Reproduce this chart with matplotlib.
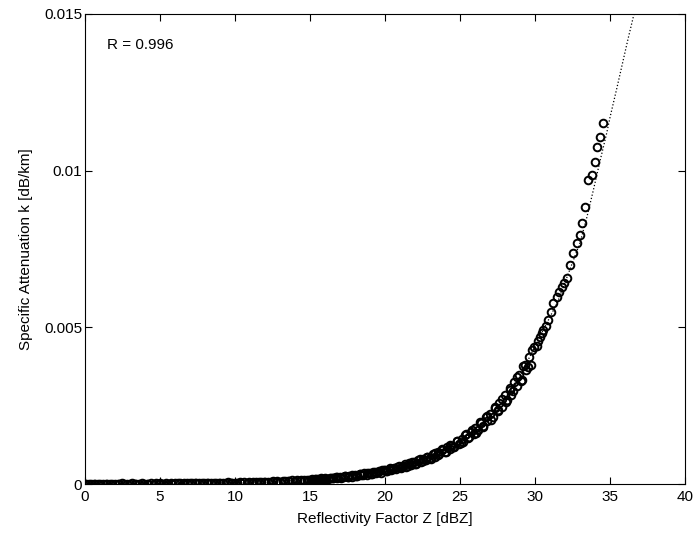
import matplotlib
matplotlib.use("Agg")
import matplotlib.pyplot as plt

plt.rcParams['font.family'] = ['Liberation Sans', 'DejaVu Sans']

# scattered (Z, k) pairs, split by range
dbz_low = [0.0, 0.1, 0.3, 0.4, 0.6, 0.7, 0.9, 1.0, 1.2, 1.4,
           1.5, 1.7, 1.8, 2.0, 2.2, 2.3, 2.5, 2.6, 2.8, 3.0,
           3.1, 3.3, 3.4, 3.6, 3.8, 3.9, 4.1, 4.2, 4.4, 4.6,
           4.7, 4.9, 5.0, 5.2, 5.4, 5.5, 5.7, 5.8, 6.0, 6.2,
           6.3, 6.5, 6.6, 6.8, 7.0, 7.1, 7.3, 7.4, 7.6, 7.8,
           7.9, 8.1, 8.2, 8.4, 8.6, 8.7, 8.9, 9.0, 9.2, 9.4,
           9.5, 9.7, 9.8]
k_low = [0.000004, 0.000012, 0.000003, 0.000010, 0.000006, 0.000015, 0.000005, 0.000009, 0.000014, 0.000004,
         0.000011, 0.000008, 0.000016, 0.000006, 0.000012, 0.000009, 0.000018, 0.000007, 0.000013, 0.000010,
         0.000019, 0.000008, 0.000015, 0.000011, 0.000020, 0.000009, 0.000016, 0.000013, 0.000022, 0.000011,
         0.000018, 0.000014, 0.000024, 0.000012, 0.000020, 0.000016, 0.000027, 0.000014, 0.000023, 0.000018,
         0.000030, 0.000016, 0.000026, 0.000021, 0.000033, 0.000019, 0.000029, 0.000024, 0.000037, 0.000021,
         0.000032, 0.000027, 0.000041, 0.000024, 0.000036, 0.000030, 0.000045, 0.000027, 0.000040, 0.000034,
         0.000050, 0.000031, 0.000045]

dbz_mid = [10.0, 10.1, 10.3, 10.4, 10.6, 10.8, 10.9, 11.1, 11.2, 11.4,
           11.6, 11.7, 11.9, 12.0, 12.2, 12.4, 12.5, 12.7, 12.8, 13.0,
           13.2, 13.3, 13.5, 13.6, 13.8, 14.0, 14.1, 14.3, 14.4, 14.6,
           14.8, 14.9, 15.1, 15.2, 15.4, 15.6, 15.7, 15.9, 16.0, 16.2,
           16.4, 16.5, 16.7, 16.8, 17.0, 17.2, 17.3, 17.5, 17.6, 17.8,
           18.0, 18.1, 18.3, 18.4, 18.6, 18.8, 18.9, 19.1, 19.2, 19.4,
           19.6, 19.7, 19.9]
k_mid = [0.000043, 0.000037, 0.000053, 0.000045, 0.000054, 0.000047, 0.000056, 0.000048, 0.000064, 0.000057,
         0.000067, 0.000058, 0.000074, 0.000064, 0.000075, 0.000068, 0.000085, 0.000076, 0.000086, 0.000077,
         0.000099, 0.000085, 0.000102, 0.000094, 0.000113, 0.000097, 0.000116, 0.000108, 0.000130, 0.000118,
         0.000138, 0.000120, 0.000153, 0.000137, 0.000155, 0.000140, 0.000179, 0.000157, 0.000180, 0.000161,
         0.000207, 0.000182, 0.000213, 0.000185, 0.000233, 0.000210, 0.000254, 0.000230, 0.000260, 0.000234,
         0.000298, 0.000256, 0.000308, 0.000283, 0.000343, 0.000294, 0.000351, 0.000326, 0.000394, 0.000356,
         0.000417, 0.000362, 0.000442]

dbz_upper = [20.0, 20.1, 20.3, 20.4, 20.6, 20.7, 20.9, 21.1, 21.2, 21.4,
             21.6, 21.7, 21.9, 22.0, 22.2, 22.4, 22.5, 22.7, 22.8, 23.0,
             23.2, 23.3, 23.5, 23.6, 23.8, 24.0, 24.1, 24.3, 24.4, 24.6,
             24.8, 24.9, 25.1, 25.2, 25.4, 25.6, 25.7, 25.9, 26.0, 26.2,
             26.4, 26.5, 26.7, 26.8, 27.0, 27.2, 27.3, 27.5, 27.6, 27.8,
             28.0, 28.1, 28.3, 28.4, 28.6, 28.8, 28.9, 29.1, 29.2, 29.4,
             29.6, 29.7, 29.9]
k_upper = [0.000447, 0.000418, 0.000493, 0.000458, 0.000519, 0.000470, 0.000561, 0.000532, 0.000584, 0.000557,
           0.000664, 0.000617, 0.000693, 0.000648, 0.000757, 0.000717, 0.000788, 0.000753, 0.000876, 0.000832,
           0.000943, 0.000873, 0.001020, 0.000946, 0.001072, 0.001015, 0.001171, 0.001122, 0.001220, 0.001178,
           0.001363, 0.001276, 0.001448, 0.001339, 0.001580, 0.001514, 0.001645, 0.001589, 0.001798, 0.001721,
           0.001952, 0.001825, 0.002132, 0.001996, 0.002220, 0.002143, 0.002424, 0.002321, 0.002573, 0.002461,
           0.002849, 0.002693, 0.002994, 0.002825, 0.003270, 0.003132, 0.003470, 0.003320, 0.003756, 0.003633,
           0.004040, 0.003812, 0.004370]

# second, denser scatter of the band between 15 and 30 dBZ
dbz_band = [15.05, 15.3, 15.55, 15.8, 16.05, 16.3, 16.55, 16.8, 17.05, 17.3,
            17.55, 17.8, 18.05, 18.3, 18.55, 18.8, 19.05, 19.3, 19.55, 19.8,
            20.05, 20.3, 20.55, 20.8, 21.05, 21.3, 21.55, 21.8, 22.05, 22.3,
            22.55, 22.8, 23.05, 23.3, 23.55, 23.8, 24.05, 24.3, 24.55, 24.8,
            25.05, 25.3, 25.55, 25.8, 26.05, 26.3, 26.55, 26.8, 27.05, 27.3,
            27.55, 27.8, 28.05, 28.3, 28.55, 28.8, 29.05, 29.3, 29.55, 29.8]
k_band = [0.000127, 0.000159, 0.000147, 0.000175, 0.000159, 0.000200, 0.000185, 0.000220, 0.000201, 0.000252,
          0.000232, 0.000277, 0.000252, 0.000317, 0.000293, 0.000349, 0.000318, 0.000399, 0.000368, 0.000439,
          0.000400, 0.000502, 0.000464, 0.000553, 0.000504, 0.000632, 0.000583, 0.000696, 0.000635, 0.000797,
          0.000735, 0.000877, 0.000807, 0.000993, 0.000925, 0.001104, 0.001016, 0.001250, 0.001165, 0.001376,
          0.001293, 0.001559, 0.001466, 0.001733, 0.001628, 0.001963, 0.001846, 0.002182, 0.002049, 0.002448,
          0.002348, 0.002721, 0.002607, 0.003052, 0.002956, 0.003425, 0.003283, 0.003807, 0.003722, 0.004271]

dbz_high = [30.1, 30.2, 30.33, 30.45, 30.55, 30.7, 30.89, 31.05, 31.22, 31.44,
            31.6, 31.78, 31.95, 32.11, 32.33, 32.55, 32.78, 33.0, 33.11, 33.33,
            33.55, 33.78, 34.0, 34.11, 34.33, 34.55]
k_high = [0.00440, 0.00455, 0.00470, 0.00482, 0.00491, 0.00505, 0.00523, 0.00548, 0.00577, 0.00598,
          0.00612, 0.00630, 0.00641, 0.00656, 0.00699, 0.00736, 0.00768, 0.00795, 0.00832, 0.00885,
          0.00970, 0.00986, 0.01029, 0.01076, 0.01108, 0.01151]

# dotted fit curve
fit_dbz = [0, 5, 10, 15, 17.5, 20, 22.5, 25, 26.25, 27.5, 28.75, 30, 31.5, 33.0, 33.45,
           33.9, 34.33, 34.78, 35.0, 35.44, 36.2, 36.55, 36.7]
fit_k = [0.0, 0.00001, 0.00004, 0.00014, 0.00024, 0.00043, 0.00077, 0.00138, 0.00183, 0.0024,
         0.0032, 0.0044, 0.0058, 0.0077, 0.0085, 0.0094, 0.0103, 0.0112, 0.0117, 0.0126,
         0.0142, 0.0149, 0.0152]

x_ticks = [0, 5, 10, 15, 20, 25, 30, 35, 40]
y_ticks = [0, 0.005, 0.01, 0.015]
y_tick_labels = ['0', '0.005', '0.01', '0.015']
r_text = 'R = 0.996'

fig = plt.figure(figsize=(6.99, 5.36), dpi=100)
ax = fig.add_axes([0.1216, 0.097, 0.8584, 0.877])

all_dbz = dbz_low + dbz_mid + dbz_band + dbz_upper + dbz_high
all_k = k_low + k_mid + k_band + k_upper + k_high
ax.plot(all_dbz, all_k, linestyle='none', marker='o', markersize=5.5,
        markerfacecolor='none', markeredgecolor='black', markeredgewidth=1.4)
ax.plot(fit_dbz, fit_k, color='black', linestyle=':', linewidth=0.9)

ax.text(1.45, 0.0140, r_text, fontsize=11, va='center', ha='left')

ax.set_xlim(0, 40)
ax.set_ylim(0, 0.015)
ax.set_xticks(x_ticks)
ax.set_yticks(y_ticks)
ax.set_yticklabels(y_tick_labels)
ax.tick_params(direction='in', top=True, right=True, length=5, width=0.8,
               labelsize=11)
ax.tick_params(axis='x', pad=4)
ax.tick_params(axis='y', pad=2)
for s in ax.spines.values():
    s.set_linewidth(0.8)
ax.set_xlabel('Reflectivity Factor Z [dBZ]', fontsize=11, labelpad=6)
ax.set_ylabel('Specific Attenuation k [dB/km]', fontsize=11, labelpad=8)

fig.savefig('out.png', dpi=100)
